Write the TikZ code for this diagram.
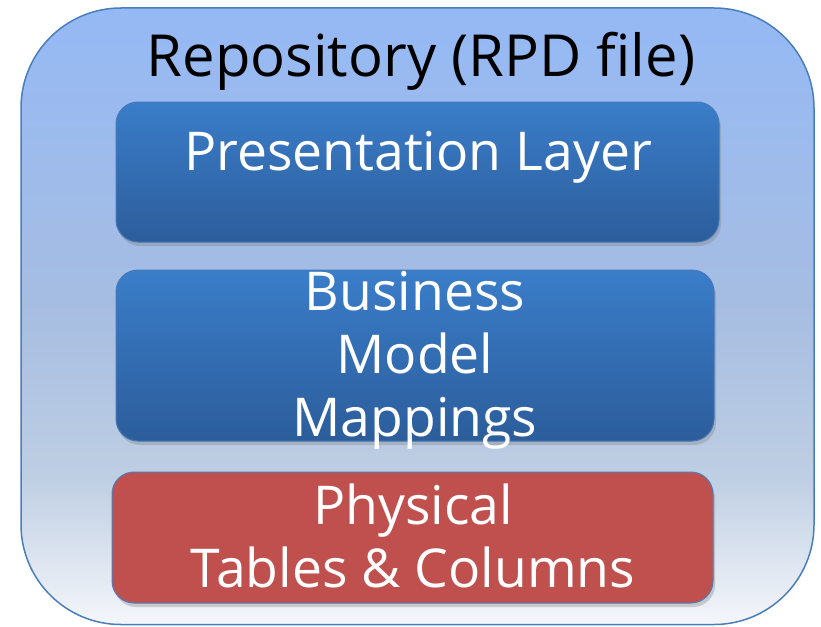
\documentclass[tikz,border=0pt]{standalone}
\usepackage{fontspec}
\setmainfont{Open Sans}
\usetikzlibrary{shadows}
\definecolor{outtop}{RGB}{149,185,245}
\definecolor{outmidA}{RGB}{166,189,226}
\definecolor{outmidB}{RGB}{190,206,227}
\definecolor{outbot}{RGB}{244,246,250}
\definecolor{outline}{RGB}{74,126,187}
\definecolor{bluetop}{RGB}{58,125,201}
\definecolor{bluebot}{RGB}{44,93,155}
\definecolor{blueline}{RGB}{70,120,185}
\definecolor{redfill}{RGB}{192,80,77}
\pgfdeclareverticalshading{outershade}{100bp}{color(0bp)=(outbot); color(25bp)=(outbot); color(37bp)=(outmidB); color(51bp)=(outmidA); color(75bp)=(outtop); color(100bp)=(outtop)}
\tikzset{
  outerbox/.style={draw=outline, line width=1.5pt, shading=outershade, rounded corners=100pt},
  layerbox/.style={draw=blueline, line width=1pt, rounded corners=22pt,
    drop shadow={shadow xshift=2pt, shadow yshift=-4pt, opacity=0.35}},
  bluebox/.style={layerbox, top color=bluetop, bottom color=bluebot},
  redbox/.style={layerbox, draw=outline, fill=redfill},
  titletext/.style={inner sep=0pt, anchor=base, text=black, font=\fontsize{58}{68}\selectfont},
  layertext/.style={inner sep=0pt, text=white, align=center, font=\fontsize{53.5}{63}\selectfont},
}
\begin{document}
\begin{tikzpicture}[x=1pt, y=-1pt]
\useasboundingbox (0,0) rectangle (821,626);
\path[outerbox] (21,8) rectangle (814,624.5);
\node[titletext] (title) at (421,77) {Repository (RPD file)};
\path[bluebox] (116,102) rectangle (719,242);
\path[bluebox] (116,270) rectangle (714,441);
\path[redbox] (112,472) rectangle (713,603);
\node[layertext, anchor=base] (pres) at (418,170) {Presentation Layer};
\node[layertext] (bus) at (415,360) {Business\\Model\\Mappings};
\node[layertext] (phys) at (413,536) {Physical\\Tables \& Columns};
\end{tikzpicture}
\end{document}
